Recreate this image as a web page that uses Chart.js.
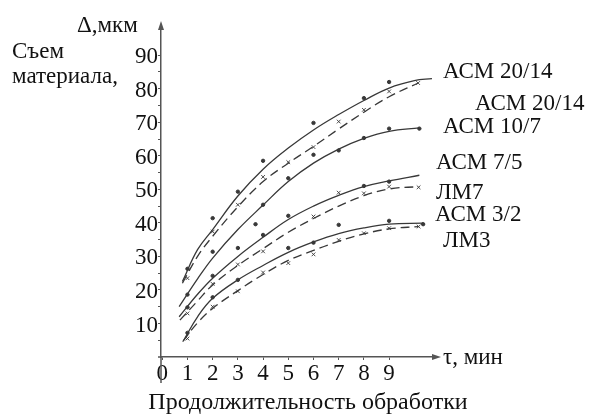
<!DOCTYPE html>
<html><head><meta charset="utf-8">
<script src="https://cdn.jsdelivr.net/npm/chart.js@4/dist/chart.umd.min.js"></script>
<style>html,body{margin:0;padding:0;background:#fff}#wrap{width:594px;height:414px;position:relative}</style>
</head><body><div id="wrap"><canvas id="c" width="594" height="414"></canvas></div>
<script>
// ---- tick labels ----
const xTickValues = [0,1,2,3,4,5,6,7,8,9];
const yTickValues = [5,10,15,20,25,30,35,40,45,50,55,60,65,70,75,80,85,90];
const yLabelValues = [10,20,30,40,50,60,70,80,90];

// ---- fitted curves (t, мин ; Δ, мкм) ----
const asm2014T = [0.8,1.4,2,3,4,5,6,7,8,9,10,10.7];
const asm2014V = [22.5,32,38,48,56,62.3,67.7,72.3,76.5,80.2,82.4,83];
const dash2014T = [0.8,1.4,2,3,4,5,6,7,8,9,10.15];
const dash2014V = [22,30,36,44.8,52.3,57.8,62.8,68,73,77.6,81.7];
const asm107T = [0.67,1.4,2,3,4,5,6,7,8,9,10.2];
const asm107V = [15,23.3,29.5,38,45.3,52.3,57.8,62,65.2,67.3,68.3];
const asm75T = [0.67,1.4,2,3,4,5,6,7,8,9,10.2];
const asm75V = [12,18.7,23.5,30,35.7,41,45,48.2,50.8,52.5,54.2];
const lm7T = [0.7,1.4,2,3,4,5,6,7,8,9,10.17];
const lm7V = [11,16.7,21.5,27.3,32.3,37.2,41.3,45,48.1,50.1,50.8];
const asm32T = [0.85,1.4,2,3,4,5,6,7,8,9,10.35];
const asm32V = [5,12,17.5,23,27.3,31.2,34.3,36.8,38.5,39.6,39.9];
const lm3T = [0.81,1.4,2,3,4,5,6,7,8,9,10.17];
const lm3V = [4.6,10.2,14.5,19.8,24.6,28.8,31.8,34.5,36.7,38.2,38.9];

// ---- measured points ----
const dotsAsm2014T = [1,2,3,4,6,8,9];
const dotsAsm2014V = [26.3,41.4,49.3,58.5,69.8,77.2,82];
const crossDash2014T = [1,2,3,4,5,6,7,8,9,10.15];
const crossDash2014V = [23.5,37.4,45.4,53.7,58.1,62.6,70.2,73.7,79.2,81.7];
const dotsAsm107T = [1,2,4,5,6,7,8,9,10.2];
const dotsAsm107V = [18.6,31.4,45.4,53.3,60.3,61.6,65.3,68.1,68.1];
const dotsAsm75T = [1,2,3,3.7,4,5,8,9];
const dotsAsm75V = [14.8,24.2,32.5,39.6,36.4,42.1,51,52.3];
const crossLm7T = [1,2,3,4,6,7,8,9,10.17];
const crossLm7V = [13,21.8,27.6,31.5,41.9,49,48.8,50.8,50.6];
const dotsAsm32T = [1,2,3,5,6,7,9,10.35];
const dotsAsm32V = [7.2,17.8,23,32.5,34.1,39.4,40.6,39.6];
const crossLm3T = [1,2,3,4,5,6,7,8,9,10.17];
const crossLm3V = [5.5,15,19.6,25.2,28,30.6,34.9,36.9,38.4,38.9];

const pts = (t, v) => t.map((x, i) => ({x, y: v[i]}));
const LINE = '#383838';
const AX = '#555';
const FONT = '"Liberation Serif", "Times New Roman", serif';

function curve(t, v, dashed) {
  return {type:'line', data: pts(t, v), borderColor: LINE, borderWidth: 1.3,
    borderDash: dashed ? [9,5] : [], pointRadius: 0, fill: false, tension: 0.4};
}
function marks(t, v, cross) {
  return {type:'scatter', data: pts(t, v), pointStyle: cross ? 'crossRot' : 'circle',
    pointRadius: cross ? 2.6 : 1.7, borderColor: LINE, backgroundColor: LINE, borderWidth: cross ? 0.9 : 1};
}

const decor = {
  id: 'decor',
  afterDraw(chart) {
    const {ctx, chartArea: a} = chart;
    ctx.save();
    ctx.strokeStyle = AX; ctx.fillStyle = AX; ctx.lineWidth = 1.5;
    ctx.beginPath(); ctx.moveTo(a.left, a.bottom); ctx.lineTo(a.left, a.bottom + 26); ctx.stroke();
    ctx.beginPath(); ctx.moveTo(a.left - 3, a.bottom); ctx.lineTo(a.left, a.bottom); ctx.stroke();
    ctx.beginPath(); ctx.moveTo(a.left, a.top - 4); ctx.lineTo(a.left - 3, a.top + 5); ctx.lineTo(a.left + 3, a.top + 5); ctx.closePath(); ctx.fill();
    ctx.beginPath(); ctx.moveTo(a.right + 4, a.bottom); ctx.lineTo(a.right - 5, a.bottom - 3); ctx.lineTo(a.right - 5, a.bottom + 3); ctx.closePath(); ctx.fill();
    ctx.fillStyle = '#111'; ctx.textBaseline = 'alphabetic'; ctx.textAlign = 'left';
    ctx.font = '23px ' + FONT;
    const T = [
      ['Δ,мкм', 77, 32], ['Съем', 12, 58], ['материала,', 12, 83],
      ['АСМ 20/14', 443, 78], ['АСМ 20/14', 475, 110], ['АСМ 10/7', 443, 133],
      ['АСМ 7/5', 436, 169], ['ЛМ7', 436, 199], ['АСМ 3/2', 435, 221], ['ЛМ3', 443, 247],
      ['τ, мин', 443, 364]
    ];
    T.forEach(([s, x, y]) => ctx.fillText(s, x, y));
    ctx.font = '24px ' + FONT; ctx.textAlign = 'center';
    ctx.fillText('Продолжительность обработки', 308, 409);
    ctx.restore();
  }
};

new Chart(document.getElementById('c'), {
  data: {datasets: [
    curve(asm2014T, asm2014V, false), curve(dash2014T, dash2014V, true),
    curve(asm107T, asm107V, false), curve(asm75T, asm75V, false),
    curve(lm7T, lm7V, true), curve(asm32T, asm32V, false), curve(lm3T, lm3V, true),
    marks(dotsAsm2014T, dotsAsm2014V, false), marks(crossDash2014T, crossDash2014V, true),
    marks(dotsAsm107T, dotsAsm107V, false), marks(dotsAsm75T, dotsAsm75V, false),
    marks(crossLm7T, crossLm7V, true), marks(dotsAsm32T, dotsAsm32V, false),
    marks(crossLm3T, crossLm3V, true)
  ]},
  options: {
    responsive: false, animation: false, devicePixelRatio: 1,
    layout: {padding: {left: 0, top: 25, right: 157, bottom: 0}},
    plugins: {legend: {display: false}, tooltip: {enabled: false}},
    scales: {
      x: {type: 'linear', min: -0.05, max: 10.9,
        afterFit(s) { s.height = 57; },
        afterBuildTicks(s) { s.ticks = xTickValues.map(v => ({value: v})); },
        ticks: {color: '#111', font: {family: FONT, size: 23}, padding: 0, maxRotation: 0, autoSkip: false,
          callback: v => String(v)},
        grid: {drawOnChartArea: false, drawTicks: true, tickLength: 3, color: AX},
        border: {display: true, color: AX, width: 1.5}
      },
      y: {type: 'linear', min: 0, max: 99,
        afterFit(s) { s.width = 161; },
        afterBuildTicks(s) { s.ticks = yTickValues.map(v => ({value: v})); },
        ticks: {color: '#111', font: {family: FONT, size: 23}, padding: 0, labelOffset: 2, autoSkip: false,
          callback: v => yLabelValues.includes(v) ? String(v) : ''},
        grid: {drawOnChartArea: false, drawTicks: true, tickLength: 3, color: AX},
        border: {display: true, color: AX, width: 1.5}
      }
    }
  },
  plugins: [decor]
});
</script></body></html>
